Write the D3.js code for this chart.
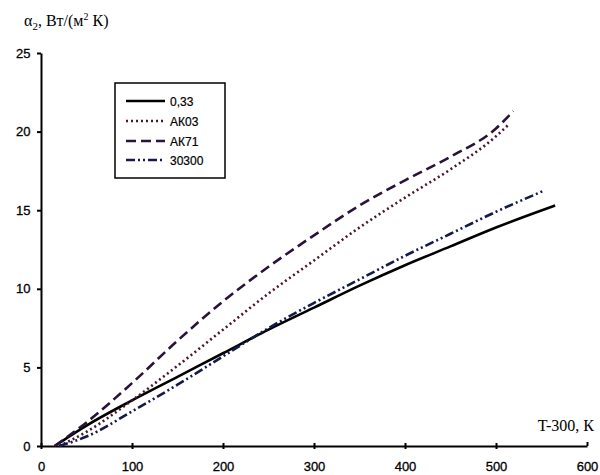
<!DOCTYPE html>
<html><head><meta charset="utf-8">
<script src="https://cdn.jsdelivr.net/npm/d3@7"></script>
<style>body{margin:0;background:#fff}svg{display:block}</style>
</head><body>
<script>
const xTicks = [0,100,200,300,400,500,600];
const yTicks = [0,5,10,15,20,25];
const seriesNames = ["0,33","АК03","АК71","30300"];
const tSolid = [15,50,100,150,200,250,300,350,400,450,500,565];
const aSolid = [0,1.3,2.9,4.4,5.9,7.4,8.8,10.2,11.5,12.7,13.9,15.3];
const tDot = [20,50,100,150,200,250,300,350,400,450,500,513];
const aDot = [0,0.9,2.9,5.1,7.4,9.7,11.8,13.9,15.8,17.6,19.7,20.4];
const tDash = [15,50,100,150,200,250,300,350,400,450,500,519];
const aDash = [0,1.5,4.0,6.7,9.2,11.4,13.4,15.3,16.9,18.4,20.2,21.3];
const tDD = [20,50,100,150,200,250,300,350,400,450,500,551];
const aDD = [0,0.6,2.2,3.9,5.7,7.5,9.1,10.6,12.1,13.5,14.9,16.2];

const W=600,H=475;
const svg=d3.select("body").append("svg").attr("width",W).attr("height",H);
const x=d3.scaleLinear().domain([0,600]).range([41,587]);
const y=d3.scaleLinear().domain([0,25]).range([446,53]);

const fontTick = "Liberation Sans, Arial";
svg.append("g").attr("class","xaxis").attr("transform","translate(0,446)")
  .call(d3.axisBottom(x).tickValues(xTicks).tickSize(5).tickSizeOuter(0))
  .call(g=>{g.select(".domain").attr("stroke","#000").attr("stroke-width",2);
    g.selectAll(".tick line").attr("stroke-width",2).attr("y1",-3).attr("y2",3);
    g.selectAll("text").attr("font-family",fontTick).attr("font-size",13).attr("fill","#000")
      .attr("stroke","#000").attr("stroke-width",0.3).attr("dy","1.3em");});
svg.append("g").attr("transform","translate(41,0)")
  .call(d3.axisLeft(y).tickValues(yTicks).tickSize(5).tickSizeOuter(0))
  .call(g=>{g.select(".domain").attr("stroke","#000").attr("stroke-width",2);
    g.selectAll(".tick line").attr("stroke-width",2).attr("x1",-4).attr("x2",0);
    g.selectAll("text").attr("font-family",fontTick).attr("font-size",13).attr("fill","#000")
      .attr("stroke","#000").attr("stroke-width",0.3).attr("dx","-0.2em");});
svg.select(".xaxis").selectAll(".tick").filter(d=>d===600).select("line").attr("y1",-4).attr("y2",0);

const styles=[
 {t:tSolid,a:aSolid,color:"#000",dash:null,w:2.6},
 {t:tDot,a:aDot,color:"#4a1530",dash:"2,3",w:2.6},
 {t:tDash,a:aDash,color:"#2a1238",dash:"10,5",w:2.6},
 {t:tDD,a:aDD,color:"#141a4a",dash:"9,3,2,3,2,3",w:2.6}
];
const line=d3.line().curve(d3.curveMonotoneX);
styles.forEach(s=>{
  const pts=s.t.map((t,i)=>[x(t),y(s.a[i])]);
  svg.append("path").attr("d",line(pts)).attr("fill","none").attr("stroke",s.color)
    .attr("stroke-width",s.w).attr("stroke-dasharray",s.dash);
});

// legend
svg.append("rect").attr("x",115).attr("y",83).attr("width",110).attr("height",95)
  .attr("fill","#fff").attr("stroke","#000").attr("stroke-width",1.5);
const ly=[101,121,141,160];
seriesNames.forEach((n,i)=>{
  const s=styles[i];
  svg.append("line").attr("x1",126).attr("x2",165).attr("y1",ly[i]).attr("y2",ly[i])
    .attr("stroke",s.color).attr("stroke-width",2.6).attr("stroke-dasharray",s.dash);
  svg.append("text").attr("x",170).attr("y",ly[i]+4.5).text(n)
    .attr("font-family",fontTick).attr("font-size",12).attr("fill","#000")
    .attr("stroke","#000").attr("stroke-width",0.2);
});

// axis titles
const t1=svg.append("text").attr("x",24).attr("y",26).attr("font-family","Liberation Serif, Times New Roman").attr("font-size",16).attr("fill","#000");
t1.append("tspan").text("α");
t1.append("tspan").text("2").attr("font-size",11).attr("dy",4);
t1.append("tspan").text(", Вт/(м").attr("dy",-4);
t1.append("tspan").text("2").attr("font-size",10).attr("dy",-6);
t1.append("tspan").text(" К)").attr("dy",6);
svg.append("text").attr("x",594).attr("y",431).attr("text-anchor","end")
  .attr("font-family","Liberation Serif, Times New Roman").attr("font-size",16).attr("fill","#000").text("T-300, К");
</script>
</body></html>
